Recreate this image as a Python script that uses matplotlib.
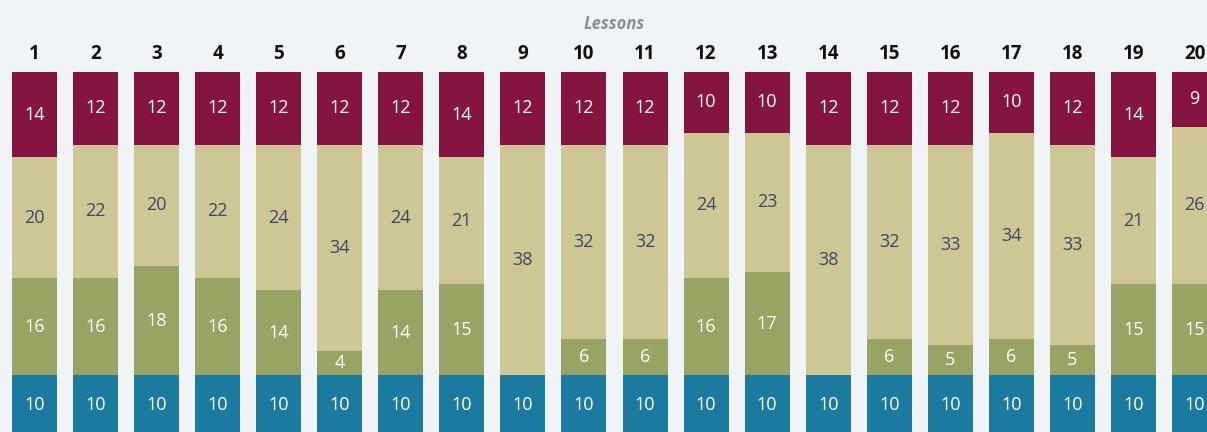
import numpy as np
import matplotlib.pyplot as plt

lessons = [str(i) for i in range(1, 21)]
maroon = [14, 12, 12, 12, 12, 12, 12, 14, 12, 12, 12, 10, 10, 12, 12, 12, 10, 12, 14, 9]
tan = [20, 22, 20, 22, 24, 34, 24, 21, 38, 32, 32, 24, 23, 38, 32, 33, 34, 33, 21, 26]
green = [16, 16, 18, 16, 14, 4, 14, 15, 0, 6, 6, 16, 17, 0, 6, 5, 6, 5, 15, 15]
blue = [10] * 20

bg = '#f1f4f6'
colors = ['#861443', '#cec795', '#98a463', '#1b7a9f']
text_colors = ['white', '#3b4866', 'white', 'white']

plt.rcParams['font.family'] = ['Open Sans', 'DejaVu Sans']

fig = plt.figure(figsize=(12.07, 4.32), dpi=100)
fig.patch.set_facecolor(bg)
ax = fig.add_axes([0, 0, 1, 1])
ax.set_facecolor(bg)

x = np.arange(1, 21)
total = np.array(maroon) + np.array(tan) + np.array(green) + np.array(blue)

# stack from the top down: maroon, tan, green, blue
top = total.astype(float)
for vals, c, tc in zip([maroon, tan, green, blue], colors, text_colors):
    vals = np.array(vals)
    ax.bar(x, vals, bottom=top - vals, width=0.737, color=c, edgecolor='none')
    for xi, t, v in zip(x, top, vals):
        if v > 0:
            ax.text(xi, t - v / 2, str(v), ha='center', va='center',
                    color=tc, fontsize=13)
    top = top - vals

for xi, lab in zip(x, lessons):
    ax.text(xi, 63.0, lab, ha='center', va='center', fontsize=13.5,
            fontweight='bold', color='#111111')

ax.text(10.5, 67.9, 'Lessons', ha='center', va='center', fontsize=12,
        fontweight='bold', fontstyle='italic', color='#8c9096')

ax.set_xlim(0.435, 20.205)
ax.set_ylim(0.6, 71.9)
ax.axis('off')

fig.savefig('out.png', dpi=100, facecolor=bg)
